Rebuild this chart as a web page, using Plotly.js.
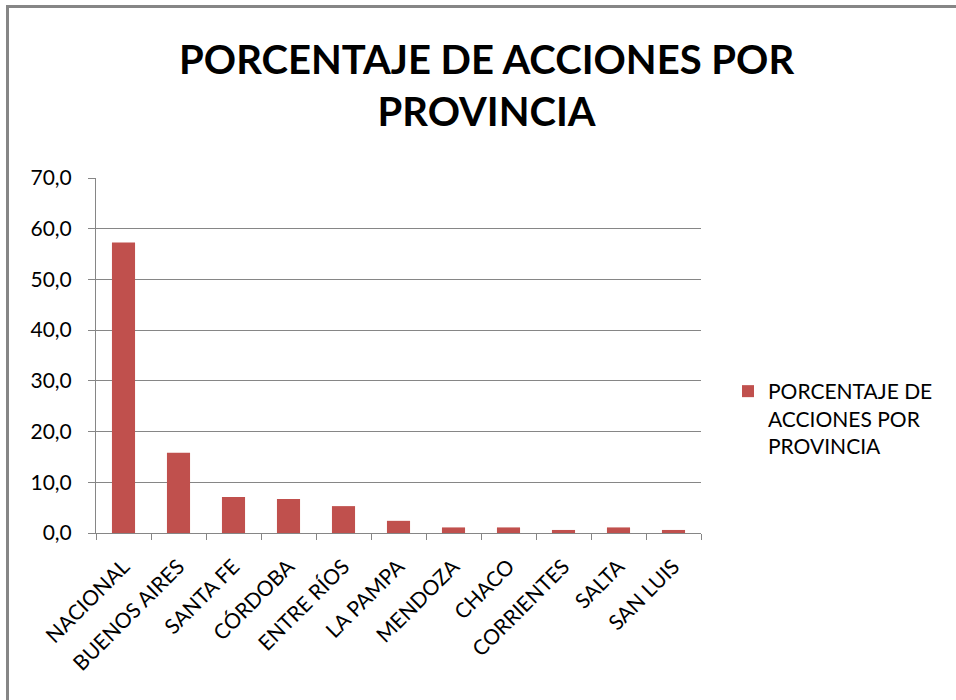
<!DOCTYPE html>
<html>
<head>
<meta charset="utf-8">
<script src="https://cdn.plot.ly/plotly-3.0.1.min.js"></script>
<style>
  html, body { margin: 0; padding: 0; background: #fff; }
  #chart { position: absolute; left: 0; top: 0; width: 956px; height: 700px; }
  #frame { position: absolute; left: 6px; top: 5px; width: 960px; height: 710px;
           border-left: 3px solid #868686; border-top: 3px solid #868686; pointer-events: none; }
</style>
</head>
<body>
<div id="chart"></div>
<div id="frame"></div>
<script>
const categories = ["NACIONAL", "BUENOS AIRES", "SANTA FE", "CÓRDOBA", "ENTRE RÍOS", "LA PAMPA",
                    "MENDOZA", "CHACO", "CORRIENTES", "SALTA", "SAN LUIS"];
const porcentaje = [57.3, 15.8, 7.1, 6.7, 5.3, 2.4, 1.1, 1.1, 0.6, 1.1, 0.6];
const seriesName = "PORCENTAJE DE<br>ACCIONES POR<br>PROVINCIA";
const chartTitle = "PORCENTAJE DE ACCIONES POR<br>PROVINCIA";

const font = "Lato, 'Open Sans', sans-serif";

Plotly.newPlot("chart", [{
  type: "bar",
  x: categories,
  y: porcentaje,
  name: seriesName,
  marker: { color: "#C0504D" },
  showlegend: true,
  hoverinfo: "x+y"
}], {
  width: 956,
  height: 700,
  margin: { l: 96, r: 255, t: 178, b: 167 },
  paper_bgcolor: "#ffffff",
  plot_bgcolor: "#ffffff",
  bargap: 0.58,
  separators: ",.",
  font: { family: font, color: "#000000", size: 20 },
  title: {
    text: chartTitle,
    font: { family: font, size: 40, color: "#000000", weight: "bold" },
    x: 0.509, xanchor: "center", xref: "container",
    y: 1 - 74 / 700, yanchor: "top", yref: "container"
  },
  xaxis: {
    type: "category",
    tickangle: -45,
    tickson: "boundaries",
    ticks: "outside",
    ticklen: 6,
    tickcolor: "#868686",
    ticklabelstandoff: 12,
    showline: true,
    linecolor: "#868686",
    linewidth: 1,
    showgrid: false,
    tickfont: { family: font, size: 21, color: "#000000" }
  },
  yaxis: {
    range: [0, 70],
    dtick: 10,
    tickformat: ".1f",
    ticks: "outside",
    ticklen: 7,
    tickcolor: "#868686",
    ticklabelstandoff: 12,
    showline: true,
    linecolor: "#868686",
    linewidth: 1,
    showgrid: true,
    gridcolor: "#868686",
    gridwidth: 1,
    zeroline: false,
    tickfont: { family: font, size: 21, color: "#000000" }
  },
  legend: {
    x: 728 / 956, xref: "container", xanchor: "left",
    y: 1 - 371 / 700, yref: "container", yanchor: "top",
    valign: "top",
    font: { family: font, size: 21, color: "#000000" },
    bgcolor: "rgba(0,0,0,0)",
    itemwidth: 30
  }
}, { displayModeBar: false, staticPlot: true });
</script>
</body>
</html>
